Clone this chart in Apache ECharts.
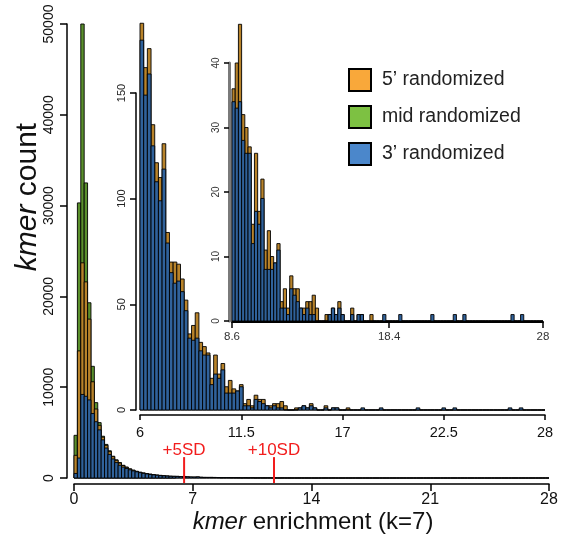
<!DOCTYPE html>
<html><head><meta charset="utf-8">
<script src="https://cdn.jsdelivr.net/npm/echarts@6/dist/echarts.min.js"></script>
<style>html,body{margin:0;padding:0;background:#fff}#c{width:569px;height:539px}</style>
</head><body><div id="c"></div>
<script>
// ---------- data ----------
const seriesNames = ['5\u2019 randomized', 'mid randomized', '3\u2019 randomized'];
const binWidth = 0.2;
// bins from 0.0 to 5.8 (main panel head)
const headStart = 0;
const headGreen  = [4700, 30300, 50000, 32500, 19300, 12300, 8300, 6100, 4600, 3700, 3000, 2400, 2000, 1700, 1400, 1200, 1000, 850, 720, 620, 530, 460, 400, 340, 290, 250, 215, 185, 160, 140];
const headOrange = [2500, 14000, 23700, 21600, 17500, 10600, 7600, 5800, 4500, 3600, 2900, 2350, 1950, 1650, 1380, 1180, 1000, 860, 740, 640, 560, 490, 430, 380, 335, 295, 260, 230, 205, 190];
const headBlue   = [500, 2200, 9200, 9000, 8600, 7100, 6200, 5300, 4200, 3300, 2600, 2100, 1700, 1400, 1200, 1050, 900, 780, 680, 590, 510, 450, 390, 345, 300, 265, 235, 210, 190, 180];
// bins from 6.0 to 27.8 (tail, shown in the insets)
const tailStart = 6;
const tailOrange = [
  183, 162, 171, 135, 117, 110, 126, 84, 70, 70, 69, 62, 52,
  36, 40, 46, 32, 30, 27, 15, 26, 17, 22, 11, 14, 10, 9, 12,
  3, 5, 2, 7, 5, 5, 2, 2, 3, 3, 4, 2,
  0, 0, 1, 1, 2, 1, 3, 1, 0, 0,
  2, 0, 1, 1, 0, 0, 1, 0, 0, 0,
  0, 0, 0, 0, 0, 0, 0, 0, 0, 0,
  0, 0, 0, 0, 0, 0, 0, 0, 0, 0,
  0, 0, 0, 0, 0, 0, 0, 0, 0, 0,
  0, 0, 0, 0, 0, 0, 0, 0, 0, 0,
  0, 0, 0, 0, 0, 0, 0, 0, 0, 0];
const tailBlue = [
  175, 149, 159, 125, 108, 99, 114, 79, 65, 60, 61, 56, 47,
  34, 33, 34, 28, 26, 26, 12, 17, 15, 19, 8, 8, 8, 9, 11,
  2, 2, 1, 5, 4, 3, 2, 1, 2, 1, 1, 0,
  0, 0, 0, 1, 2, 1, 2, 1, 0, 0,
  1, 0, 1, 1, 0, 0, 0, 0, 0, 0,
  1, 0, 0, 0, 0, 1, 0, 0, 0, 0,
  0, 0, 0, 0, 0, 1, 0, 0, 0, 0,
  0, 0, 1, 0, 0, 1, 0, 0, 0, 0,
  0, 0, 0, 0, 0, 0, 0, 0, 0, 0,
  1, 0, 0, 1, 0, 0, 0, 0, 0, 0];
const inset1Range = [6, 28];
const inset2Range = [8.6, 28];
const inset1XTicks = [6, 11.5, 17, 22.5, 28];
const inset2XTicks = [8.6, 18.4, 28];
const sdLabels = ['+5SD', '+10SD'];
const sdPositions = [6.49, 11.79];
const sdSpan = [-550, 2300];

// ---------- styles ----------
const F = '"Liberation Sans", Arial, Helvetica, sans-serif';
const barColors = ['#B8832A', '#5A8F2C', '#30629B'];
const legendColors = ['#F9A83A', '#7DC142', '#4B87CB'];

function bins(start, values) {
  return values.map(function (v, i) { return [Math.round((start + i * binWidth) * 100) / 100, v]; });
}
function barRender(params, api) {
  const x0 = api.value(0), v = api.value(1);
  const a = api.coord([x0, 0]);
  const b = api.coord([x0 + binWidth, v]);
  return {type: 'rect', shape: {x: a[0], y: b[1], width: b[0] - a[0], height: a[1] - b[1]},
    style: {fill: api.visual('color'), stroke: '#000', lineWidth: 0.9}};
}
function barSeries(name, idx, color, data) {
  return {type: 'custom', name: name, xAxisIndex: idx, yAxisIndex: idx, renderItem: barRender,
    data: data, encode: {x: 0, y: 1}, itemStyle: {color: color}, clip: false, silent: true, animation: false};
}
function xAx(idx, o) {
  return Object.assign({gridIndex: idx, type: 'value', splitLine: {show: false},
    axisLine: {show: true, onZero: false, lineStyle: {color: '#000', width: 1.5}}}, o);
}
function yAx(idx, o) {
  return Object.assign({gridIndex: idx, type: 'value', splitLine: {show: false},
    axisLine: {show: true, onZero: false, lineStyle: {color: '#000', width: 1.5}}}, o);
}

const mainOrange = bins(headStart, headOrange.concat(tailOrange));
const mainBlue = bins(headStart, headBlue.concat(tailBlue));
const mainGreen = bins(headStart, headGreen);
const ins1Orange = bins(tailStart, tailOrange);
const ins1Blue = bins(tailStart, tailBlue);
const ins2Orange = ins1Orange.filter(function (d) { return d[0] >= inset2Range[0] - 1e-6; });
const ins2Blue = ins1Blue.filter(function (d) { return d[0] >= inset2Range[0] - 1e-6; });

const chart = echarts.init(document.getElementById('c'), null, {renderer: 'canvas'});
chart.setOption({
  animation: false,
  backgroundColor: '#fff',
  grid: [
    {left: 74, right: 20, top: 24, bottom: 61},
    {left: 140, right: 24, top: 93, bottom: 129},
    {left: 232, right: 26, top: 63, bottom: 218}
  ],
  xAxis: [
    xAx(0, {min: 0, max: 28, interval: 7, offset: 6,
      axisTick: {length: 7, lineStyle: {color: '#000', width: 1.5}},
      axisLabel: {fontSize: 16, color: '#111', fontFamily: F, margin: 8}}),
    xAx(1, {min: inset1Range[0], max: inset1Range[1], offset: 5,
      axisTick: {length: 5, customValues: inset1XTicks, lineStyle: {color: '#000', width: 1.5}},
      axisLabel: {customValues: inset1XTicks, fontSize: 14.5, color: '#111', fontFamily: F, margin: 10,
        formatter: function (v) { return String(v); }}}),
    xAx(2, {min: inset2Range[0], max: inset2Range[1], offset: 1,
      axisLine: {show: true, onZero: false, lineStyle: {color: '#000', width: 2}},
      axisTick: {length: 6, customValues: inset2XTicks, lineStyle: {color: '#000', width: 1.5}},
      axisLabel: {customValues: inset2XTicks, fontSize: 11.5, color: '#333', fontFamily: F, margin: 9,
        formatter: function (v) { return String(v); }}})
  ],
  yAxis: [
    yAx(0, {min: 0, max: 50000, interval: 10000, offset: 7,
      axisTick: {length: 7, lineStyle: {color: '#000', width: 1.5}},
      axisLabel: {rotate: 90, fontSize: 14, color: '#111', fontFamily: F, margin: 11,
        formatter: function (v) { return String(v); }}}),
    yAx(1, {min: 0, max: 150, interval: 50, offset: 4,
      axisTick: {length: 6, lineStyle: {color: '#000', width: 1.5}},
      axisLabel: {rotate: 90, fontSize: 11, color: '#222', fontFamily: F, margin: 9,
        formatter: function (v) { return String(v); }}}),
    yAx(2, {min: 0, max: 40, interval: 10, offset: 3,
      axisLine: {show: true, onZero: false, lineStyle: {color: '#7a7a7a', width: 3}},
      axisTick: {length: 5, lineStyle: {color: '#000', width: 1.5}},
      axisLabel: {rotate: 90, fontSize: 10, color: '#333', fontFamily: F, margin: 8,
        formatter: function (v) { return String(v); }}})
  ],
  legend: {
    orient: 'vertical', left: 348, top: 68, padding: 0,
    itemWidth: 22, itemHeight: 22, itemGap: 13, icon: 'rect', selectedMode: false,
    textStyle: {fontSize: 19.5, color: '#222', fontFamily: F, padding: [0, 0, 0, 6]},
    data: seriesNames.map(function (n, i) {
      return {name: n, itemStyle: {color: legendColors[i], borderColor: '#000', borderWidth: 2}};
    })
  },
  graphic: [
    {type: 'text', x: 28, y: 197, rotation: Math.PI / 2, silent: true,
      style: {text: '{i|kmer} count', fill: '#111', align: 'center', verticalAlign: 'middle',
        fontSize: 30, fontFamily: F,
        rich: {i: {fontStyle: 'italic', fontSize: 30, fontFamily: F, fill: '#111'}}}},
    {type: 'text', x: 313, y: 522, silent: true,
      style: {text: '{i|kmer} enrichment (k=7)', fill: '#111', align: 'center', verticalAlign: 'middle',
        fontSize: 24, fontFamily: F,
        rich: {i: {fontStyle: 'italic', fontSize: 24, fontFamily: F, fill: '#111'}}}}
  ],
  series: [
    barSeries(seriesNames[1], 0, barColors[1], mainGreen),
    barSeries(seriesNames[0], 0, barColors[0], mainOrange),
    barSeries(seriesNames[2], 0, barColors[2], mainBlue),
    barSeries(seriesNames[0], 1, barColors[0], ins1Orange),
    barSeries(seriesNames[2], 1, barColors[2], ins1Blue),
    barSeries(seriesNames[0], 2, barColors[0], ins2Orange),
    barSeries(seriesNames[2], 2, barColors[2], ins2Blue),
    {type: 'custom', name: 'SD', xAxisIndex: 0, yAxisIndex: 0, silent: true, clip: false,
      data: sdPositions.map(function (x, i) { return [x, i]; }), encode: {x: 0},
      renderItem: function (params, api) {
        const x = api.value(0);
        const p0 = api.coord([x, sdSpan[0]]);
        const p1 = api.coord([x, sdSpan[1]]);
        return {type: 'group', children: [
          {type: 'line', shape: {x1: p0[0], y1: p0[1], x2: p1[0], y2: p1[1]},
            style: {stroke: '#F21D1D', lineWidth: 2}},
          {type: 'text', x: p1[0], y: p1[1] + 2,
            style: {text: sdLabels[params.dataIndex], fill: '#F21D1D', fontSize: 17, fontFamily: F,
              align: 'center', verticalAlign: 'bottom'}}
        ]};
      }}
  ]
});
</script></body></html>
